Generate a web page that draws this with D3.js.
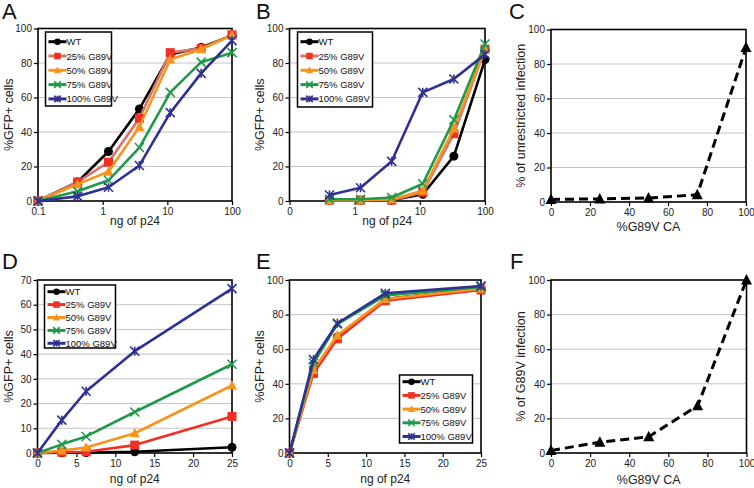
<!DOCTYPE html>
<html><head><meta charset="utf-8">
<script src="https://cdn.jsdelivr.net/npm/d3@7"></script>
<style>
html,body{margin:0;padding:0;background:#fff;}
svg{display:block;font-family:Arial,"Liberation Sans",sans-serif;}
</style></head>
<body>
<svg id="fig" width="754" height="488"></svg>
<script>
// ---------------- DATA ----------------
const seriesNames = ["WT", "25% G89V", "50% G89V", "75% G89V", "100% G89V"];
const doseLogA = [0.1, 0.41, 1.23, 3.7, 11.1, 33.3, 100];
const doseLogB = [0.41, 1.23, 3.7, 11.1, 33.3, 100];
const doseLin = [0, 3.125, 6.25, 12.5, 25];
const pctG89V = [0, 25, 50, 75, 100];

const logTicks = [0.1, 1, 10, 100];
const logTickLabelsA = ["0.1", "1", "10", "100"];
const logTickLabelsB = ["0", "1", "10", "100"];

// Panel A
const aWT   = [0, 11, 28.7, 53.4, 85, 89, 96];
const a25   = [0, 11, 22.5, 48, 86, 88.5, 96.3];
const a50   = [0, 9.8, 17, 43, 82, 88, 96];
const a75   = [0, 5.6, 12, 31, 63, 80.5, 86];
const a100  = [0, 2.7, 8, 20.6, 51.2, 74, 93];
// Panel B
const bWT   = [0.5, 0.5, 0.5, 3.9, 26, 82];
const b25   = [0.5, 0.5, 0.5, 5, 39, 88];
const b50   = [0.5, 0.5, 1, 6, 42, 88];
const b75   = [1, 1, 2, 10, 47, 91];
const b100  = [3.5, 7.7, 23, 63, 70.7, 85];
// Panel C
const cUnrestricted = [1.5, 1.8, 2.3, 4.2, 89.5];
// Panel D
const dWT   = [0, 0.1, 0.2, 0.5, 2.3];
const d25   = [0, 0.3, 0.5, 3.2, 14.8];
const d50   = [0, 1, 2.2, 8, 27.3];
const d75   = [0, 3.5, 6.7, 16.6, 35.9];
const d100  = [0, 13.3, 25, 41.2, 66.5];
// Panel E
const eWT   = [0, 48, 67, 89, 95];
const e25   = [0, 46, 66, 88, 94.2];
const e50   = [0, 48, 68, 89, 95];
const e75   = [0, 52, 74.5, 91, 96];
const e100  = [0, 54, 75, 92.3, 96.5];
// Panel F
const fG89V = [1.5, 6.2, 9.4, 27.3, 100];

// ---------------- STYLE ----------------
const markers = ["circle", "square", "triangle", "cross", "star"];
const colTop = ["#000000", "#d8736b", "#f7941d", "#1f9a4a", "#2e3192"];
const mkTop  = ["#000000", "#ee3124", "#f7941d", "#1f9a4a", "#2e3192"];
const colBot = ["#000000", "#ee3124", "#f7941d", "#1f9a4a", "#2e3192"];

const svg = d3.select("#fig");

function drawMarker(g, type, x, y, color, s) {
  if (type === "circle") {
    g.append("circle").attr("cx", x).attr("cy", y).attr("r", s * 0.5).attr("fill", color);
  } else if (type === "square") {
    g.append("rect").attr("x", x - s * 0.5).attr("y", y - s * 0.5).attr("width", s).attr("height", s).attr("fill", color);
  } else if (type === "triangle") {
    const h = s * 1.0;
    g.append("path").attr("d", `M${x},${y - h * 0.6}L${x + s * 0.55},${y + h * 0.45}L${x - s * 0.55},${y + h * 0.45}Z`).attr("fill", color);
  } else if (type === "cross" || type === "star") {
    const r = s * 0.5;
    g.append("path").attr("d", `M${x - r},${y - r}L${x + r},${y + r}M${x - r},${y + r}L${x + r},${y - r}`)
      .attr("stroke", color).attr("stroke-width", 1.6).attr("fill", "none");
    if (type === "star") {
      g.append("path").attr("d", `M${x},${y - r}L${x},${y + r}`)
        .attr("stroke", color).attr("stroke-width", 1.6);
    }
  }
}

function panel(cfg) {
  const g = svg.append("g");
  const {l, r, t, b} = cfg.box;
  const x = cfg.log ? d3.scaleLog().domain(cfg.xDomain).range([l, r])
                    : d3.scaleLinear().domain(cfg.xDomain).range([l, r]);
  const y = d3.scaleLinear().domain([0, cfg.yMax]).range([b, t]);
  const yTicks = d3.range(0, cfg.yMax + 0.001, cfg.yStep);

  // gridlines
  g.append("g").selectAll("line").data(yTicks.filter(v => v > 0 && v < cfg.yMax)).join("line")
    .attr("x1", l).attr("x2", r).attr("y1", d => y(d)).attr("y2", d => y(d))
    .attr("stroke", "#c4c4c4").attr("stroke-width", 1);

  // axes
  const yAxis = d3.axisLeft(y).tickValues(yTicks).tickSize(4).tickSizeOuter(0).tickFormat(d3.format("d"));
  const ya = g.append("g").attr("transform", `translate(${l},0)`).call(yAxis);
  const xAxis = d3.axisBottom(x).tickValues(cfg.xTicks).tickSize(4).tickSizeOuter(0)
    .tickFormat((d, i) => cfg.xLabels ? cfg.xLabels[i] : d3.format("d")(d));
  const xa = g.append("g").attr("transform", `translate(0,${b})`).call(xAxis);
  [ya, xa].forEach(a => {
    a.select(".domain").remove();
    a.selectAll("line").attr("stroke", "#000").attr("stroke-width", 1.2);
    a.selectAll("text").attr("font-size", 10).attr("fill", "#222").attr("font-family", "Arial, 'Liberation Sans', sans-serif");
  });
  ya.selectAll("text").attr("x", -6);
  xa.selectAll("text").attr("y", 7);

  // frame
  g.append("rect").attr("x", l).attr("y", t).attr("width", r - l).attr("height", b - t)
    .attr("fill", "none").attr("stroke", "#000").attr("stroke-width", 1.6);

  // titles
  g.append("text").attr("x", cfg.label[1]).attr("y", cfg.label[2]).text(cfg.label[0])
    .attr("font-size", 22).attr("fill", "#111");
  g.append("text").attr("transform", `translate(${cfg.yTitleX},${(t + b) / 2}) rotate(-90)`)
    .attr("text-anchor", "middle").attr("font-size", 12.5).attr("fill", "#222").text(cfg.yTitle);
  g.append("text").attr("x", (l + r) / 2).attr("y", cfg.xTitleY).attr("text-anchor", "middle")
    .attr("font-size", cfg.xTitleSize || 12).attr("fill", "#222").text(cfg.xTitle);

  // series
  const line = d3.line().x(d => x(d[0])).y(d => y(d[1]));
  cfg.series.forEach(s => {
    const pts = s.xs.map((v, i) => [v, s.ys[i]]);
    g.append("path").attr("d", line(pts)).attr("fill", "none").attr("stroke", s.line)
      .attr("stroke-width", s.dash ? 3 : 2.6).attr("stroke-dasharray", s.dash || null)
      .attr("stroke-linejoin", "round");
    const mg = g.append("g");
    pts.forEach(p => drawMarker(mg, s.marker, x(p[0]), y(p[1]), s.mk, s.size || 9));
  });

  // legend
  if (cfg.legend) {
    const L = cfg.legend;
    const lg = g.append("g");
    lg.append("rect").attr("x", L.x).attr("y", L.y).attr("width", L.w).attr("height", L.h)
      .attr("fill", "#fff").attr("stroke", "#000").attr("stroke-width", 1.5);
    cfg.series.forEach((s, i) => {
      const yy = L.y0 + i * L.step;
      lg.append("line").attr("x1", L.x + 3).attr("x2", L.x + 21).attr("y1", yy).attr("y2", yy)
        .attr("stroke", s.line).attr("stroke-width", 3);
      drawMarker(lg, s.marker, L.x + 12, yy, s.mk, 6.5);
      lg.append("text").attr("x", L.x + 21).attr("y", yy + 3.5).attr("font-size", 9.5)
        .attr("fill", "#111").text(seriesNames[i]);
    });
  }
}

function mkSeries(xs, ysList, lineCols, mkCols) {
  return ysList.map((ys, i) => ({xs, ys, line: lineCols[i], mk: mkCols[i], marker: markers[i]}));
}

panel({
  box: {l: 38, r: 232, t: 28.5, b: 201}, log: true, xDomain: [0.1, 100], xTicks: logTicks, xLabels: logTickLabelsA,
  yMax: 100, yStep: 20, label: ["A", 2, 19], yTitle: "%GFP+ cells", yTitleX: 13, xTitle: "ng of p24", xTitleY: 225,
  series: mkSeries(doseLogA, [aWT, a25, a50, a75, a100], colTop, mkTop),
  legend: {x: 45.5, y: 32, w: 66, h: 74, y0: 41.7, step: 14.3}
});
panel({
  box: {l: 289.5, r: 485, t: 28.5, b: 201}, log: true, xDomain: [0.1, 100], xTicks: logTicks, xLabels: logTickLabelsB,
  yMax: 100, yStep: 20, label: ["B", 256, 19], yTitle: "%GFP+ cells", yTitleX: 264, xTitle: "ng of p24", xTitleY: 225,
  series: mkSeries(doseLogB, [bWT, b25, b50, b75, b100], colTop, mkTop),
  legend: {x: 297.5, y: 32, w: 75, h: 75, y0: 41.7, step: 14.3}
});
panel({
  box: {l: 551, r: 746, t: 29.5, b: 202}, log: false, xDomain: [0, 100], xTicks: [0, 20, 40, 60, 80, 100],
  yMax: 100, yStep: 20, label: ["C", 509, 19], yTitle: "% of unrestricted infection", yTitleX: 525,
  xTitle: "%G89V CA", xTitleY: 231, xTitleSize: 12.5,
  series: [{xs: pctG89V, ys: cUnrestricted, line: "#000", mk: "#000", marker: "triangle", dash: "9,5", size: 10}]
});
panel({
  box: {l: 37.5, r: 232, t: 280, b: 453}, log: false, xDomain: [0, 25], xTicks: [0, 5, 10, 15, 20, 25],
  yMax: 70, yStep: 10, label: ["D", 2, 269], yTitle: "%GFP+ cells", yTitleX: 13, xTitle: "ng of p24", xTitleY: 483,
  series: mkSeries(doseLin, [dWT, d25, d50, d75, d100], colBot, colBot),
  legend: {x: 44.5, y: 285, w: 71, h: 63, y0: 291.7, step: 12.9}
});
panel({
  box: {l: 289.5, r: 481, t: 280, b: 453}, log: false, xDomain: [0, 25], xTicks: [0, 5, 10, 15, 20, 25],
  yMax: 100, yStep: 20, label: ["E", 256, 269], yTitle: "%GFP+ cells", yTitleX: 264, xTitle: "ng of p24", xTitleY: 483,
  series: mkSeries(doseLin, [eWT, e25, e50, e75, e100], colBot, colBot),
  legend: {x: 399.5, y: 375, w: 73, h: 68, y0: 381.7, step: 13.7}
});
panel({
  box: {l: 551, r: 746.5, t: 280, b: 453}, log: false, xDomain: [0, 100], xTicks: [0, 20, 40, 60, 80, 100],
  yMax: 100, yStep: 20, label: ["F", 510, 269], yTitle: "% of G89V infection", yTitleX: 525,
  xTitle: "%G89V CA", xTitleY: 484, xTitleSize: 12.5,
  series: [{xs: pctG89V, ys: fG89V, line: "#000", mk: "#000", marker: "triangle", dash: "9,5", size: 10}]
});
</script>
</body></html>
